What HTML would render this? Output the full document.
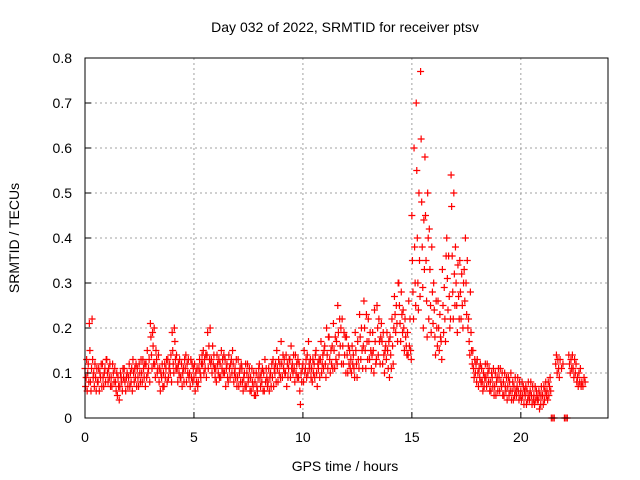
<!DOCTYPE html>
<html><head><meta charset="utf-8"><style>
body{margin:0;background:#fff}
svg{display:block;font-family:"Liberation Sans",sans-serif}
</style></head><body>
<svg id="chart" width="640" height="480">
<text x="345" y="32" font-size="14" text-anchor="middle">Day 032 of 2022, SRMTID for receiver ptsv</text>
<text x="345" y="471" font-size="14" text-anchor="middle">GPS time / hours</text>
<text transform="translate(19,238) rotate(-90)" font-size="14" text-anchor="middle">SRMTID / TECUs</text>
<g id="grid"></g>
<g id="marks"></g>
<rect x="85" y="58" width="523" height="360" fill="none" stroke="#000"/>
<g id="ticks"></g>
</svg>
<script>
const xTicks=[0,5,10,15,20];
const yTicks=[0,0.1,0.2,0.3,0.4,0.5,0.6,0.7,0.8];
const yLabels=["0","0.1","0.2","0.3","0.4","0.5","0.6","0.7","0.8"];
const step=0.2;
const groups=[
[.11,.07,.09,.13,.06,.10,.12,.08],[.21,.15,.08,.06,.11,.22,.13,.09],[.10,.07,.12,.09,.06,.11,.08],[.08,.11,.06,.10,.09,.12,.07],[.12,.09,.07,.10,.11,.08,.13],
[.13,.10,.08,.11,.09,.12,.07],[.09,.07,.12,.10,.08,.11],[.08,.06,.10,.05,.09,.07,.04],[.07,.10,.09,.08,.06,.11,.09],[.11,.08,.06,.09,.10,.07],
[.09,.12,.07,.10,.08,.11,.06],[.13,.10,.08,.11,.09,.12,.07],[.11,.09,.07,.12,.10,.08,.13],[.10,.08,.13,.11,.09,.12,.07],[.12,.09,.15,.10,.11,.13,.08],
[.21,.18,.14,.11,.19,.16,.12,.20],[.12,.09,.15,.13,.10,.11,.14],[.08,.11,.06,.10,.09,.12,.07],[.10,.07,.12,.09,.11,.13,.08],[.13,.09,.11,.12,.10,.14,.08],
[.19,.15,.12,.10,.20,.17,.13,.11],[.14,.11,.08,.12,.10,.13,.09],[.09,.12,.07,.10,.11,.08,.13],[.11,.14,.08,.12,.10,.13,.09],[.10,.07,.13,.09,.12,.08,.11],
[.09,.12,.06,.10,.08,.11,.07],[.08,.11,.13,.10,.09,.12,.14],[.12,.15,.10,.13,.11,.14,.09],[.14,.19,.11,.16,.13,.20,.12],[.13,.10,.16,.12,.14,.11,.09],
[.11,.08,.14,.12,.10,.13,.09],[.12,.09,.15,.11,.13,.10,.14],[.10,.13,.07,.11,.12,.09,.08],[.14,.11,.09,.12,.13,.10,.15],[.12,.08,.10,.11,.09,.13,.07],
[.09,.13,.07,.10,.11,.08,.12],[.11,.08,.06,.09,.10,.07,.12],[.07,.10,.12,.08,.09,.11,.06],[.09,.06,.11,.08,.07,.10,.05],[.08,.05,.10,.07,.06,.09,.11],
[.12,.09,.07,.10,.08,.11,.06],[.10,.06,.13,.08,.11,.09,.07],[.08,.11,.06,.09,.10,.07,.12],[.09,.13,.07,.11,.10,.12,.08],[.15,.11,.08,.13,.10,.12,.09],
[.17,.12,.09,.14,.11,.13,.10],[.10,.14,.07,.12,.09,.11,.13],[.13,.09,.16,.11,.12,.10,.14],[.11,.08,.14,.10,.12,.09,.13],[.09,.12,.06,.03,.10,.08,.11],
[.12,.08,.15,.10,.11,.13,.09],[.14,.10,.17,.12,.11,.13,.09],[.11,.08,.13,.10,.12,.09,.14],[.15,.10,.07,.12,.11,.13,.09],[.13,.17,.10,.12,.14,.11,.15],
[.16,.12,.09,.20,.14,.11,.18],[.18,.13,.10,.15,.12,.16,.11],[.21,.15,.11,.18,.13,.17,.12],[.25,.19,.14,.22,.16,.20,.12],[.22,.16,.12,.19,.14,.18,.10],
[.18,.14,.10,.16,.12,.15,.11],[.13,.10,.16,.12,.14,.11,.09],[.19,.15,.12,.09,.17,.13,.11],[.23,.18,.13,.20,.15,.11,.16],[.26,.20,.15,.11,.23,.17,.13],
[.22,.17,.13,.19,.15,.11,.14],[.19,.15,.10,.24,.17,.12,.13],[.25,.20,.14,.22,.17,.12,.18],[.21,.17,.12,.19,.14,.10,.15],[.16,.13,.19,.15,.11,.17,.09],
[.18,.14,.11,.22,.16,.12,.20],[.27,.23,.19,.25,.21,.17,.30],[.30,.25,.21,.17,.28,.23,.19],[.24,.20,.15,.22,.18,.16,.14],[.19,.14,.26,.16,.22,.15,.13],
[.45,.35,.28,.22,.60,.38,.30,.25],[.70,.55,.40,.30,.24,.50,.35,.27],[.77,.62,.48,.38,.29,.20,.44,.33],[.58,.45,.35,.26,.18,.50,.40,.22],[.42,.33,.25,.19,.38,.28,.21],
[.30,.24,.18,.14,.26,.20,.16],[.26,.20,.15,.23,.18,.17,.13],[.33,.25,.19,.29,.22,.17,.36],[.40,.31,.24,.36,.27,.20,.22],[.54,.47,.36,.28,.22,.50,.32,.25],
[.38,.30,.25,.19,.34,.27,.22],[.35,.28,.22,.32,.25,.20,.30],[.33,.26,.40,.30,.23,.35,.20],[.22,.17,.14,.28,.19,.15,.12],[.15,.11,.09,.13,.10,.12,.08],
[.13,.10,.07,.11,.09,.12,.08],[.11,.08,.06,.10,.07,.09,.12],[.09,.07,.12,.10,.08,.11,.06],[.08,.06,.10,.09,.07,.11,.05],[.07,.10,.05,.08,.09,.06,.11],
[.09,.06,.11,.08,.07,.10,.05],[.08,.05,.10,.07,.06,.09,.04],[.07,.09,.05,.08,.06,.10,.04],[.06,.08,.04,.07,.05,.09,.06],[.05,.07,.09,.06,.04,.08,.05],
[.06,.04,.08,.05,.07,.03,.06],[.05,.07,.03,.06,.04,.08,.05],[.04,.06,.08,.05,.03,.07,.04],[.05,.03,.07,.04,.06,.05,.04],[.04,.06,.02,.05,.03,.07,.05],
[.05,.03,.07,.04,.06,.08,.05],[.06,.04,.08,.05,.07,.09,.06],[0,0,0],[.12,.14,.10,.13,.11,.09],[.13,.11,.12],
[0,0,0],[.14,.12,.10,.13,.11,.14],[.11,.09,.13,.10,.12,.08],[.09,.07,.10,.08,.11,.07],[.08,.07,.09,.08]
];
const NS="http://www.w3.org/2000/svg";
const X=t=>85+t*523/24, Y=v=>418-v*450;
const grid=document.getElementById('grid'),ticks=document.getElementById('ticks'),marks=document.getElementById('marks');
function mk(tag,attrs,parent){const e=document.createElementNS(NS,tag);for(const k in attrs)e.setAttribute(k,attrs[k]);parent.appendChild(e);return e;}
xTicks.forEach(t=>{
 if(t>0){const g=mk('line',{x1:X(t),x2:X(t),y1:58,y2:418,stroke:'#a0a0a0','stroke-dasharray':'2,3'},grid);
 
 }
 const l=mk('line',{x1:X(t),x2:X(t),y1:418,y2:412,stroke:'#000'},ticks);
 
 
 const tx=mk('text',{x:X(t),y:442,'font-size':14,'text-anchor':'middle'},ticks);tx.textContent=t;
 
 
});
yTicks.forEach((v,i)=>{
 if(v>0&&v<0.8){const g=mk('line',{x1:85,x2:608,y1:Y(v),y2:Y(v),stroke:'#a0a0a0','stroke-dasharray':'2,3'},grid);
 
 }
 const l=mk('line',{x1:85,x2:91,y1:Y(v),y2:Y(v),stroke:'#000'},ticks);
 
 
 const tx=mk('text',{x:72,y:Y(v)+5,'font-size':14,'text-anchor':'end'},ticks);tx.textContent=yLabels[i];
 
 
});
groups.forEach((vals,gi)=>{
 const t0=gi*step;
 vals.forEach((v,k)=>{
  const x=X(t0+k*step/vals.length),y=Y(v);
  const p=mk('path',{d:`M${x-3.5},${y}h7M${x},${y-3.5}v7`,stroke:'#f00','stroke-width':1.2,fill:'none'},marks);
  
  
 });
});
</script>
</body></html>
